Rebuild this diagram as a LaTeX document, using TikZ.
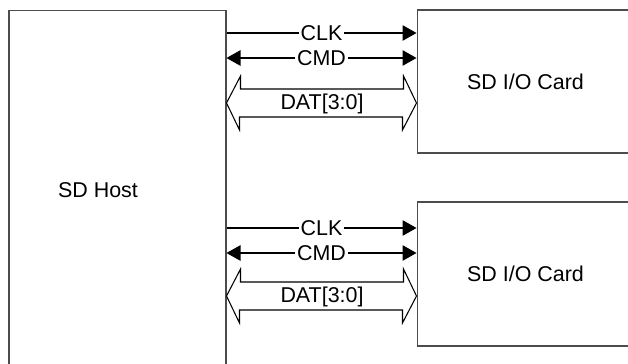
\documentclass[tikz,border=0pt]{standalone}
\usepackage{fontspec}
\setmainfont{Liberation Sans}
\usetikzlibrary{arrows.meta}
\begin{document}
\begin{tikzpicture}[x=0.02cm, y=-0.02cm, line width=0.6pt,
  >={Triangle[length=0.28cm,width=0.31cm]},
  box/.style={draw=black!70, minimum width=4.34cm, inner sep=0pt},
  sig/.style={fill=white, inner sep=1pt},
  font=\fontsize{12.2}{14}\selectfont]
\useasboundingbox (0,0) rectangle (628,364);
\clip (0,0) rectangle (628,364);
\node[box, minimum height=7.2cm] (host) at (117.5,190) {};
\node (hostlbl) at (98,190) {SD Host};
\node[box, minimum height=2.86cm] (card1) at (525.5,81.5) {SD I/O Card};
\node[box, minimum height=2.88cm] (card2) at (525.5,274) {SD I/O Card};
\foreach \i/\c/\d/\m in {1/33/58/103, 2/228/253/296}{
\draw[->] (host.east |- 0,\c) -- node[sig] (clk\i) {CLK} (card\i.west |- 0,\c);
\draw[<->] (host.east |- 0,\d) -- node[sig] (cmd\i) {CMD} (card\i.west |- 0,\d);
\draw (host.east |- 0,\m) -- ++(14,-27) -- ++(0,13) -- ++(163,0) -- ++(0,-13)
  -- (card\i.west |- 0,\m) -- ++(-14,27) -- ++(0,-13) -- ++(-163,0) -- ++(0,13) -- cycle;
\node[inner sep=0pt] (dat\i) at (322,\m+1) {DAT[3:0]};
}
\end{tikzpicture}
\end{document}
